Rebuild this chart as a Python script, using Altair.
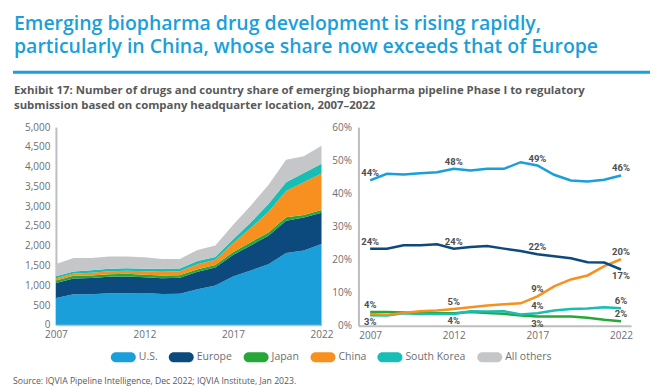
import altair as alt
import pandas as pd

years = list(range(2007, 2023))
series = ["U.S.", "Europe", "Japan", "China", "South Korea", "All others"]
colors = ["#1a9fdb", "#0c4a7e", "#27a737", "#f7901e", "#18bdb3", "#c4c6c8"]

# Number of drugs (stacked area, left panel)
us_count = [675, 775, 772, 795, 800, 805, 782, 785, 898, 995, 1222, 1374, 1530, 1815, 1877, 2045]
eu_count = [380, 395, 410, 419, 424, 398, 397, 402, 441, 453, 545, 633, 725, 815, 840, 790]
jp_count = [65, 70, 68, 66, 66, 65, 70, 65, 68, 62, 71, 84, 80, 90, 60, 70]
cn_count = [55, 55, 66, 76, 79, 87, 93, 102, 123, 136, 225, 359, 520, 665, 830, 920]
kr_count = [50, 52, 64, 62, 62, 62, 73, 72, 83, 68, 96, 139, 200, 220, 230, 250]
ot_count = [315, 343, 310, 307, 294, 293, 252, 241, 281, 289, 366, 424, 480, 570, 423, 455]

# Country share in percent (lines, right panel)
us_share = [43.9, 45.9, 45.7, 46.1, 46.4, 47.4, 46.9, 47.4, 47.4, 49.4, 48.4, 45.6, 43.9, 43.6, 44.1, 45.4]
eu_share = [23.3, 23.3, 24.3, 24.3, 24.6, 23.3, 23.8, 24.1, 23.3, 22.6, 21.6, 21.0, 20.4, 19.2, 19.1, 17.0]
jp_share = [4.2, 4.2, 4.0, 3.8, 3.8, 3.8, 4.2, 3.9, 3.6, 3.1, 2.8, 2.8, 2.8, 2.4, 1.8, 1.4]
cn_share = [3.6, 3.3, 3.9, 4.4, 4.6, 5.1, 5.6, 6.1, 6.5, 6.8, 8.9, 11.9, 14.0, 15.2, 18.0, 20.1]
kr_share = [3.2, 3.1, 3.8, 3.6, 3.6, 3.6, 4.4, 4.3, 4.4, 3.4, 3.8, 4.6, 5.1, 5.2, 5.6, 5.3]

# Data labels on the right panel
label_series = ["U.S.", "U.S.", "U.S.", "U.S.", "Europe", "Europe", "Europe", "Europe",
                "China", "China", "China", "Japan", "South Korea", "South Korea",
                "South Korea", "Japan", "South Korea", "Japan"]
label_years = [2007, 2012, 2017, 2022, 2007, 2012, 2017, 2022,
               2022, 2017, 2012, 2007, 2007, 2012, 2017, 2017, 2022, 2022]
label_text = ["44%", "48%", "49%", "46%", "24%", "24%", "22%", "17%",
              "20%", "9%", "5%", "4%", "3%", "4%", "4%", "3%", "6%", "2%"]
label_side = ["above", "above", "above", "above", "above", "above", "above", "below",
              "above", "above", "above", "above", "below", "below", "above", "below", "above", "above"]

title_lines = ["Emerging biopharma drug development is rising rapidly,",
               "particularly in China, whose share now exceeds that of Europe"]
subtitle_lines = ["Exhibit 17: Number of drugs and country share of emerging biopharma pipeline Phase I to regulatory",
                  "submission based on company headquarter location, 2007\u20132022"]
source_text = "Source: IQVIA Pipeline Intelligence, Dec 2022; IQVIA Institute, Jan 2023."
tick_years = [2007, 2012, 2017, 2022]

BLUE = "#1a9fdb"
GRAY = "#6d6e71"
AXISLINE = "#bcbec0"

counts = [us_count, eu_count, jp_count, cn_count, kr_count, ot_count]
area_rows = []
for i, (s, vals) in enumerate(zip(series, counts)):
    for y, v in zip(years, vals):
        area_rows.append({"series": s, "year": y, "count": v, "order": i})
area_df = pd.DataFrame(area_rows)

shares = {"Japan": jp_share, "South Korea": kr_share, "China": cn_share,
          "Europe": eu_share, "U.S.": us_share}
line_rows = []
for s, vals in shares.items():
    for y, v in zip(years, vals):
        line_rows.append({"series": s, "year": y, "share": v / 100.0})
line_df = pd.DataFrame(line_rows)

lab_df = pd.DataFrame({"series": label_series, "year": label_years,
                       "text": label_text, "side": label_side})
lab_df = lab_df.merge(line_df, on=["series", "year"], how="left")

color_scale = alt.Scale(domain=series, range=colors)
stadium = "M-0.6,-0.4H0.6A0.4,0.4,0,0,1,0.6,0.4H-0.6A0.4,0.4,0,0,1,-0.6,-0.4Z"

legend = alt.Legend(
    title=None, orient="none", direction="horizontal", legendX=55, legendY=218,
    symbolType=stadium, symbolSize=625, symbolStrokeWidth=0, symbolOpacity=1,
    labelFontSize=10.5, labelColor=GRAY, labelFont="Open Sans", labelOffset=3,
    columnPadding=11, padding=0, gridAlign="none",
)

x_axis = alt.Axis(values=tick_years, format="d", title=None, labelFlush=False,
                  ticks=False, grid=False, domainColor=AXISLINE, domainWidth=2,
                  labelColor=GRAY, labelFontSize=10, labelPadding=5, labelOverlap=False)

area = alt.Chart(area_df).mark_area(opacity=1).encode(
    x=alt.X("year:Q", scale=alt.Scale(domain=[2007, 2022], nice=False, zero=False), axis=x_axis),
    y=alt.Y("count:Q", stack="zero", scale=alt.Scale(domain=[0, 5000], nice=False),
            axis=alt.Axis(values=list(range(0, 5001, 500)), format=",d", title=None,
                          ticks=False, grid=False, domainColor=AXISLINE, domainWidth=2,
                          labelColor=GRAY, labelFontSize=10, labelPadding=6,
                          labelOverlap=False)),
    color=alt.Color("series:N", scale=color_scale, legend=legend, sort=series),
    order=alt.Order("order:Q", sort="ascending"),
)

one = alt.Data(values=[{"a": 1}])


def text_line(txt, x, y, size, color, weight, font="Open Sans"):
    return alt.Chart(one).mark_text(
        text=txt, align="left", baseline="alphabetic", fontSize=size, color=color,
        fontWeight=weight, font=font,
    ).encode(x=alt.value(x), y=alt.value(y))


header = [
    text_line(title_lines[0], -42, -97.5, 19.5, BLUE, 600),
    text_line(title_lines[1], -42, -74.5, 19.5, BLUE, 600),
    text_line(subtitle_lines[0], -42, -33.5, 11.4, "#58595b", "bold"),
    text_line(subtitle_lines[1], -42, -17.7, 11.4, "#58595b", "bold"),
    text_line(source_text, -43, 257.3, 8.7, "#58595b", "normal"),
]
rule = alt.Chart(one).mark_rule(color=BLUE, strokeWidth=3).encode(
    x=alt.value(-43), x2=alt.value(595), y=alt.value(-55))

left = alt.layer(area, rule, *header).properties(width=266, height=198)

xr = alt.X("year:Q", scale=alt.Scale(domain=[2006.3, 2022.6], nice=False, zero=False), axis=x_axis)
y_axis_r = alt.Axis(values=[0, 0.1, 0.2, 0.3, 0.4, 0.5, 0.6], format=".0%", title=None,
                    ticks=False, grid=False, domainColor=AXISLINE, domainWidth=2,
                    labelColor=GRAY, labelFontSize=10, labelPadding=7, labelOverlap=False)
yr = alt.Y("share:Q", scale=alt.Scale(domain=[0, 0.6], nice=False), axis=y_axis_r)

lines = alt.Chart(line_df).mark_line(strokeWidth=2.5).encode(
    x=xr, y=yr,
    color=alt.Color("series:N", scale=color_scale, legend=None),
)

lab_base = alt.Chart(lab_df)
lab_style = dict(fontSize=9.5, fontWeight="bold", color="#4d4d4f", font="Roboto")
lab_above = lab_base.transform_filter(alt.datum.side == "above").mark_text(
    dy=-7, **lab_style
).encode(x=xr, y=yr, text="text:N")
lab_below = lab_base.transform_filter(alt.datum.side == "below").mark_text(
    dy=7, **lab_style
).encode(x=xr, y=yr, text="text:N")

right = alt.layer(lines, lab_above, lab_below).properties(width=273, height=199)

chart = alt.hconcat(left, right, spacing=37, bounds="flush").properties(
    padding={"left": 3, "top": 5, "right": 0, "bottom": 0}
).configure(font="Open Sans").configure_view(stroke=None)

chart.save("out.html", embed_options={"renderer": "svg", "actions": False})
